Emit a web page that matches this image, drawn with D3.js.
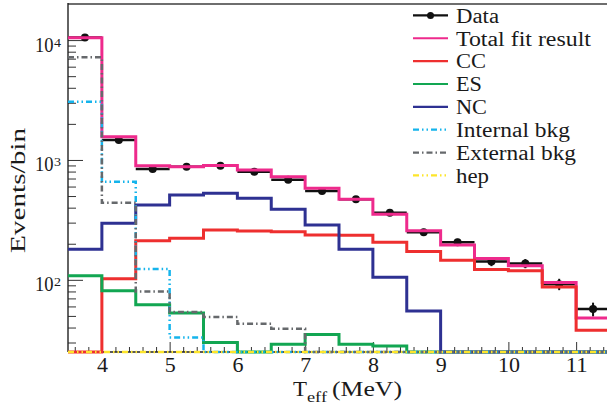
<!DOCTYPE html>
<html>
<head>
<meta charset="utf-8">
<script src="https://cdn.jsdelivr.net/npm/d3@7/dist/d3.min.js"></script>
<style>
  html, body { margin: 0; padding: 0; background: #fff; }
  svg { display: block; }
  svg text { font-family: "Liberation Serif", "Times New Roman", "DejaVu Serif", serif; }
</style>
</head>
<body>
<svg id="chart" width="607" height="407"></svg>
<script>
// ---- data (events per 0.5 MeV bin) ----
const binEdges = [3.5, 4, 4.5, 5, 5.5, 6, 6.5, 7, 7.5, 8, 8.5, 9, 9.5, 10, 10.5, 11, 11.5];
const dataValues = [10500, 1466, 841, 879, 896, 798, 683, 552, 470, 363, 250, 206, 142, 137, 92, 57];
const dataErrors = [102, 38, 29, 30, 30, 28, 26, 23, 22, 19, 16, 14, 12, 12, 10, 7.5];
const totalFit = [10470, 1563, 896, 879, 900, 824, 725, 580, 470, 352, 257, 195, 151, 131, 95, 48];
const ccValues = [8, 102, 212, 222, 260, 255, 252, 237, 235, 206, 172, 146, 122, 119, 87, 38];
const esValues = [108, 81, 62, 53, 30, 22, 29, 35, 29, 28, 20, 18, 15, 12, 10, 6];
const ncValues = [180, 296, 421, 510, 527, 479, 388, 287, 180, 105, 55, 15, 5, 2, 1, 1];
const internalBkg = [3063, 659, 123, 33, 15, 8, 5, 3, 2, 1, 1, 1, 1, 1, 1, 1];
const externalBkg = [7180, 440, 80, 54, 49, 43, 39, 20, 10, 5, 3, 2, 1, 1, 1, 1];
const hepValues = [2, 2, 2, 2, 2, 2, 2, 2, 2, 2, 2, 2, 2, 2, 2, 2];
const xTicks = [4, 5, 6, 7, 8, 9, 10, 11];
const yMajorTicks = [100, 1000, 10000];
const yMajorExponents = ["2", "3", "4"];
const legendLabels = ["Data", "Total fit result", "CC", "ES", "NC", "Internal bkg", "External bkg", "hep"];
const legendTextWidths = [43, 135, 30, 26, 31, 114, 120, 33];

// ---- layout ----
const L = 68, T = 4, B = 352, R = 610;
const svg = d3.select("#chart");
const x = d3.scaleLinear().domain([3.5, 11.5]).range([L, R]);
const y = d3.scaleLog().domain([25, 20000]).range([B, T]).clamp(true);
const ink = "#1a1a1a";

// ---- axes ----
const xMinor = d3.range(3.6, 11.45, 0.2).filter(v => Math.abs(v - Math.round(v)) > 0.05);
svg.append("g").attr("transform", `translate(0,${B})`)
  .call(d3.axisBottom(x).tickValues(xMinor).tickSize(-5).tickFormat(""))
  .call(g => g.select(".domain").remove())
  .call(g => g.selectAll("line").attr("stroke", "#333").attr("stroke-width", 1));
svg.append("g").attr("transform", `translate(0,${B})`)
  .call(d3.axisBottom(x).tickValues(xTicks).tickSize(-10).tickPadding(5).tickFormat(d3.format("d")))
  .call(g => g.select(".domain").remove())
  .call(g => g.selectAll("line").attr("stroke", "#333").attr("stroke-width", 1))
  .call(g => g.selectAll("text").attr("font-size", 20.5).attr("fill", ink).attr("font-family", null)
        .attr("lengthAdjust", "spacingAndGlyphs")
        .attr("textLength", d => String(d).length === 2 ? 22 : 11));

const yMinor = [];
[10, 100, 1000, 10000].forEach(d => { for (let k = 2; k <= 9; k++) { const v = k * d; if (v >= 25 && v <= 20000) yMinor.push(v); } });
svg.append("g").attr("transform", `translate(${L},0)`)
  .call(d3.axisLeft(y).tickValues(yMinor).tickSize(-8).tickFormat(""))
  .call(g => g.select(".domain").remove())
  .call(g => g.selectAll("line").attr("stroke", "#333").attr("stroke-width", 1));
svg.append("g").attr("transform", `translate(${L},0)`)
  .call(d3.axisLeft(y).tickValues(yMajorTicks).tickSize(-15).tickFormat(""))
  .call(g => g.select(".domain").remove())
  .call(g => g.selectAll("line").attr("stroke", "#333").attr("stroke-width", 1));

yMajorTicks.forEach((v, i) => {
  const ty = y(v) + 11.5;
  svg.append("text").attr("x", 35).attr("y", ty)
    .attr("font-size", 20.5).attr("fill", ink)
    .attr("textLength", 18.5).attr("lengthAdjust", "spacingAndGlyphs").text("10");
  svg.append("text").attr("x", 54).attr("y", ty - 5).attr("font-size", 12.5).attr("fill", ink)
    .attr("textLength", 7).attr("lengthAdjust", "spacingAndGlyphs")
    .text(yMajorExponents[i]);
});

// frame lines
svg.append("line").attr("x1", L).attr("x2", 607).attr("y1", T).attr("y2", T)
  .attr("stroke", "#6e6e6e").attr("stroke-width", 2);
svg.append("line").attr("x1", L).attr("x2", L).attr("y1", T - 1).attr("y2", B)
  .attr("stroke", "#222").attr("stroke-width", 1.4);
svg.append("line").attr("x1", L).attr("x2", 607).attr("y1", B).attr("y2", B)
  .attr("stroke", "#222").attr("stroke-width", 1.4);

// axis titles
svg.append("text").attr("transform", "translate(24.5,190.5) rotate(-90)")
  .attr("text-anchor", "middle").attr("font-size", 20.5).attr("fill", ink)
  .attr("textLength", 125).attr("lengthAdjust", "spacingAndGlyphs").text("Events/bin");
const xt = svg.append("text").attr("x", 293).attr("y", 396)
  .attr("font-size", 20.5).attr("fill", ink);
xt.append("tspan").attr("textLength", 14).attr("lengthAdjust", "spacingAndGlyphs").text("T");
xt.append("tspan").attr("dy", 6).attr("font-size", 14.5)
  .attr("textLength", 20).attr("lengthAdjust", "spacingAndGlyphs").text("eff");
xt.append("tspan").attr("dy", -6).attr("x", 332)
  .attr("textLength", 70).attr("lengthAdjust", "spacingAndGlyphs").text("(MeV)");

function stepPath(values) {
  const pts = [];
  values.forEach((v, i) => { pts.push([binEdges[i], v]); pts.push([binEdges[i + 1], v]); });
  return d3.line().x(d => x(d[0])).y(d => y(d[1]))(pts);
}

// ---- data ----
const centers = binEdges.slice(0, -1).map((e, i) => (e + binEdges[i + 1]) / 2);
const dg = svg.append("g");
dataValues.forEach((v, i) => {
  dg.append("line").attr("x1", x(binEdges[i])).attr("x2", x(binEdges[i + 1]))
    .attr("y1", y(v)).attr("y2", y(v)).attr("stroke", "#111").attr("stroke-width", 2.5);
  dg.append("line").attr("x1", x(centers[i])).attr("x2", x(centers[i]))
    .attr("y1", y(v - dataErrors[i])).attr("y2", y(v + dataErrors[i]))
    .attr("stroke", "#111").attr("stroke-width", 2);
  dg.append("circle").attr("cx", x(centers[i])).attr("cy", y(v)).attr("r", 4).attr("fill", "#111");
});

// ---- fit components ----
const series = [
  { vals: totalFit, color: "#ee2a8c", w: 3, dash: null },
  { vals: ccValues, color: "#ee2f2f", w: 3, dash: null },
  { vals: esValues, color: "#12a652", w: 3, dash: null },
  { vals: ncValues, color: "#2e3192", w: 3, dash: null },
  { vals: internalBkg, color: "#15b4ec", w: 2.5, dash: "6,3,1.5,3,1.5,3" },
  { vals: externalBkg, color: "#66696c", w: 2.5, dash: "6,3,1.5,3" },
  { vals: hepValues, color: "#fde52a", w: 2.5, dash: "6,3,1.5,3,1.5,3" }
];
series.forEach(s => {
  svg.append("path").attr("d", stepPath(s.vals)).attr("fill", "none")
    .attr("stroke", s.color).attr("stroke-width", s.w)
    .attr("stroke-dasharray", s.dash);
});

// ---- legend ----
const leg = svg.append("g");
const legColors = ["#111", "#ee2a8c", "#ee2f2f", "#12a652", "#2e3192", "#15b4ec", "#66696c", "#fde52a"];
const legDash = [null, null, null, null, null, "6,3,1.5,3,1.5,3", "6,3,1.5,3", "6,3,1.5,3,1.5,3"];
legendLabels.forEach((lab, i) => {
  const by = 22.7 + 22.86 * i;
  const ly = by - 7.3;
  leg.append("line").attr("x1", 413).attr("x2", 448).attr("y1", ly).attr("y2", ly)
    .attr("stroke", legColors[i]).attr("stroke-width", 2.2).attr("stroke-dasharray", legDash[i]);
  if (i === 0) leg.append("circle").attr("cx", 430.5).attr("cy", ly).attr("r", 3.5).attr("fill", "#111");
  leg.append("text").attr("x", 456).attr("y", by)
    .attr("font-size", 20).attr("fill", ink)
    .attr("textLength", legendTextWidths[i]).attr("lengthAdjust", "spacingAndGlyphs").text(lab);
});
</script>
</body>
</html>
